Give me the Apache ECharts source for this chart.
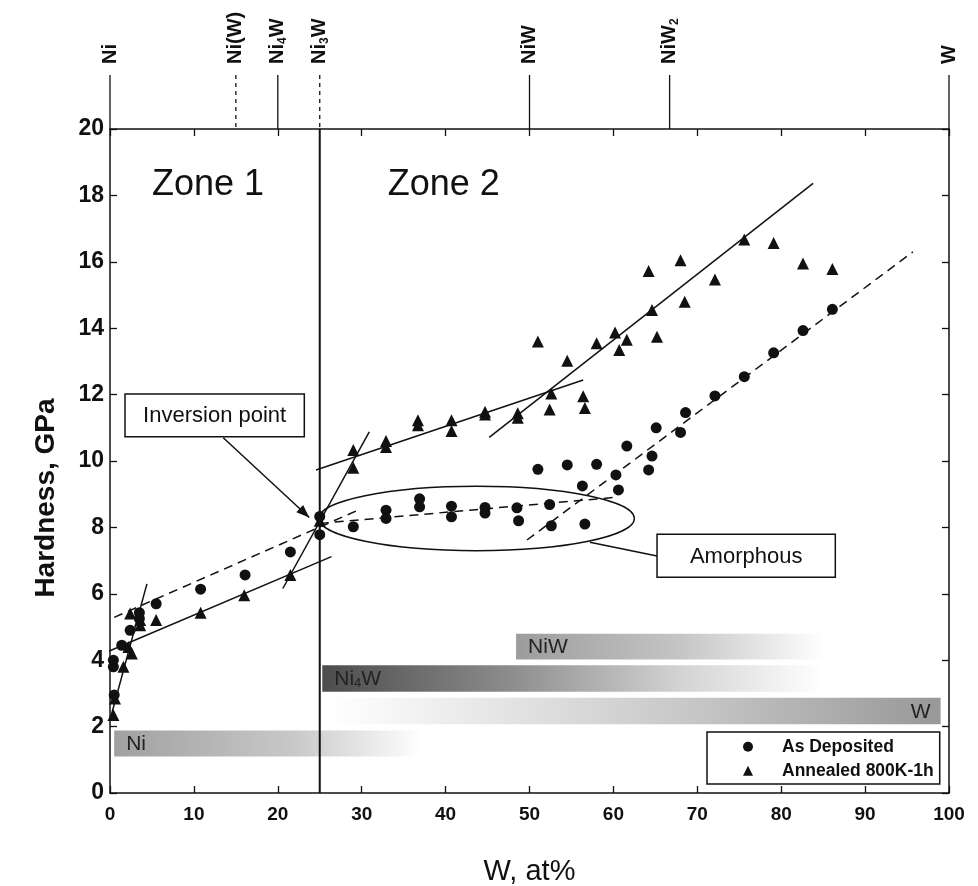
<!DOCTYPE html>
<html>
<head>
<meta charset="utf-8">
<script src="https://cdn.jsdelivr.net/npm/echarts@6/dist/echarts.min.js"></script>
<style>
  html, body { margin: 0; padding: 0; background: #fff; }
  #chart { width: 978px; height: 886px; }
</style>
</head>
<body>
<div id="chart"></div>
<script>
// ---- Hardness of Ni-W deposits vs. W content ----

// axis ticks
const xTicks = [0, 10, 20, 30, 40, 50, 60, 70, 80, 90, 100];
const yTicks = [0, 2, 4, 6, 8, 10, 12, 14, 16, 18, 20];

// hardness (GPa) of as-deposited films: [W at%, hardness]
const asDeposited = [
  [0.4, 4.0], [0.4, 3.8], [0.5, 2.95], [1.4, 4.45], [2.4, 4.9], [3.5, 5.43], [3.5, 5.25],
  [5.5, 5.7], [10.8, 6.14], [16.1, 6.57], [21.5, 7.26], [25.0, 8.33], [25.0, 7.78],
  [29.0, 8.02], [32.9, 8.52], [32.9, 8.27], [36.9, 8.86], [36.9, 8.62], [40.7, 8.64],
  [40.7, 8.32], [44.7, 8.6], [44.7, 8.43], [48.5, 8.59], [48.7, 8.2], [52.4, 8.69],
  [52.6, 8.05], [56.6, 8.1],
  [51.0, 9.75], [54.5, 9.88], [58.0, 9.9], [56.3, 9.25], [60.3, 9.58], [60.6, 9.13],
  [61.6, 10.45], [64.2, 9.73], [64.6, 10.15], [65.1, 11.0], [68.0, 10.86], [68.6, 11.46],
  [72.1, 11.96], [75.6, 12.54], [79.1, 13.26], [82.6, 13.93], [86.1, 14.57]
];

// hardness (GPa) after annealing at 800 K for 1 h
const annealed = [
  [0.4, 2.35], [0.6, 2.85], [1.6, 3.8], [2.6, 4.2], [2.2, 4.4], [2.4, 5.41], [3.6, 5.21],
  [3.6, 5.05], [5.5, 5.21], [10.8, 5.43], [16.0, 5.96], [21.5, 6.57], [25.0, 8.2],
  [29.0, 10.33], [29.0, 9.8], [32.9, 10.6], [32.9, 10.42], [36.7, 11.23], [36.7, 11.08],
  [40.7, 11.23], [40.7, 10.9], [44.7, 11.48], [44.7, 11.4], [48.6, 11.44], [48.6, 11.3],
  [52.6, 12.03], [52.4, 11.55], [56.4, 11.95], [56.6, 11.6],
  [51.0, 13.6], [54.5, 13.02], [58.0, 13.55], [60.2, 13.87], [61.6, 13.65], [60.7, 13.34],
  [64.2, 15.72], [64.6, 14.55], [65.2, 13.74], [68.0, 16.05], [68.5, 14.8], [72.1, 15.47],
  [75.6, 16.67], [79.1, 16.57], [82.6, 15.95], [86.1, 15.78]
];

// trend lines (end points in W at% / GPa)
const depositedTrends = [
  [[0.5, 5.29], [29.4, 8.5]],
  [[25.0, 8.12], [60.0, 8.9]],
  [[49.7, 7.62], [95.7, 16.3]]
];
const annealedTrends = [
  [[0.0, 2.2], [4.4, 6.3]],
  [[-0.8, 4.2], [26.4, 7.12]],
  [[20.6, 6.16], [30.9, 10.88]],
  [[24.55, 9.73], [56.4, 12.44]],
  [[45.2, 10.71], [83.8, 18.36]]
];

// zone boundary
const zoneBoundary = [[25, 0], [25, 20]];

// stoichiometric compositions marked above the plot
const phaseNames = ['Ni', 'Ni(W)', 'Ni4W', 'Ni3W', 'NiW', 'NiW2', 'W'];
const phaseAt = [0, 15, 20, 25, 50, 66.7, 100];
const phaseDashed = [false, true, false, true, false, false, false];

// phase ranges found by diffraction: W at% span and hardness band
const bandNames = ['NiW', 'Ni4W', 'W', 'Ni'];
const bandFrom = [48.4, 25.3, 26.2, 0.5];
const bandTo = [86.8, 86.8, 99.0, 39.1];
const bandLow = [4.02, 3.05, 2.07, 1.1];
const bandHigh = [4.8, 3.85, 2.87, 1.88];

// ---- presentation ----
const FONT = '"Liberation Sans", Arial, Helvetica, sans-serif';
const INK = '#111';

const bandFills = [
  [[0, '#9c9c9c'], [0.5, '#c4c4c4'], [0.96, '#ffffff'], [1, '#ffffff']],
  [[0, '#4c4c4c'], [0.35, '#8a8a8a'], [0.7, '#d4d4d4'], [0.97, '#ffffff'], [1, '#ffffff']],
  [[0, '#ffffff'], [0.12, '#f4f4f4'], [0.6, '#c6c6c6'], [1, '#989898']],
  [[0, '#a0a0a0'], [0.55, '#c8c8c8'], [0.95, '#ffffff'], [1, '#ffffff']]
];
const bandLabelRight = [false, false, true, false];

function richName(n) {
  // digits become subscripts
  return n.replace(/(\d)/g, '}{s|$1}{m|').replace(/^/, '{m|').replace(/$/, '}').replace(/\{m\|\}/g, '');
}

function renderBand(params, api) {
  const i = params.dataIndex;
  const p0 = api.coord([api.value(0), api.value(3)]);
  const p1 = api.coord([api.value(1), api.value(2)]);
  const w = p1[0] - p0[0], h = p1[1] - p0[1];
  const right = bandLabelRight[i];
  return {
    type: 'group',
    children: [
      {
        type: 'rect',
        shape: { x: p0[0], y: p0[1], width: w, height: h },
        style: {
          fill: new echarts.graphic.LinearGradient(0, 0, 1, 0,
            bandFills[i].map(s => ({ offset: s[0], color: s[1] })))
        }
      },
      {
        type: 'text',
        x: right ? p1[0] - 10 : p0[0] + 12,
        y: p0[1] + h / 2 + 1,
        style: {
          text: richName(bandNames[i]),
          rich: {
            m: { fontFamily: FONT, fontSize: 21, fill: '#222' },
            s: { fontFamily: FONT, fontSize: 13, fill: '#222', verticalAlign: 'bottom', lineHeight: 13 }
          },
          align: right ? 'right' : 'left',
          verticalAlign: 'middle'
        }
      }
    ]
  };
}

function arrowHead(a, b, len, half) {
  const dx = b[0] - a[0], dy = b[1] - a[1];
  const L = Math.hypot(dx, dy), ux = dx / L, uy = dy / L;
  const bx = b[0] - ux * len, by = b[1] - uy * len;
  return [[b[0], b[1]], [bx - uy * half, by + ux * half], [bx + uy * half, by - ux * half]];
}

function renderNotes(params, api) {
  const c = p => api.coord(p);
  const kids = [];
  const stroke = { stroke: INK, lineWidth: 1.5, fill: null };

  // composition markers above the top axis
  const topY = c([0, 20])[1];
  phaseNames.forEach((n, i) => {
    const px = c([phaseAt[i], 20])[0];
    kids.push({
      type: 'line',
      shape: { x1: px, y1: topY - 54, x2: px, y2: topY },
      style: { stroke: INK, lineWidth: 1.3, lineDash: phaseDashed[i] ? [4, 4] : null }
    });
    kids.push({
      type: 'text',
      x: px, y: topY - 65, rotation: Math.PI / 2,
      style: {
        text: richName(n),
        rich: {
          m: { fontFamily: FONT, fontWeight: 'bold', fontSize: 20, fill: INK, lineHeight: 22 },
          s: { fontFamily: FONT, fontWeight: 'bold', fontSize: 12, fill: INK, verticalAlign: 'bottom', lineHeight: 12 }
        },
        align: 'left', verticalAlign: 'middle'
      }
    });
  });

  // zone titles
  [['Zone 1', 5.0], ['Zone 2', 33.1]].forEach(z => {
    const p = c([z[1], 18.3]);
    kids.push({ type: 'text', x: p[0], y: p[1],
      style: { text: z[0], fontFamily: FONT, fontSize: 36, fill: INK, align: 'left', verticalAlign: 'middle' } });
  });

  // amorphous region
  const ec = c([43.7, 8.27]);
  const er = api.size([18.8, 0.97]);
  kids.push({ type: 'ellipse', shape: { cx: ec[0], cy: ec[1], rx: er[0], ry: er[1] }, style: stroke });

  // labelled boxes
  function box(x0, y0, x1, y1, text) {
    const a = c([x0, y0]), b = c([x1, y1]);
    kids.push({ type: 'rect', shape: { x: a[0], y: a[1], width: b[0] - a[0], height: b[1] - a[1] },
      style: { stroke: INK, lineWidth: 1.5, fill: '#fff' } });
    kids.push({ type: 'text', x: (a[0] + b[0]) / 2, y: (a[1] + b[1]) / 2 + 1,
      style: { text, fontFamily: FONT, fontSize: 22, fill: INK, align: 'center', verticalAlign: 'middle' } });
  }

  // inversion point callout
  const ia = c([13.5, 10.7]), ib = c([23.75, 8.3]);
  kids.push({ type: 'line', shape: { x1: ia[0], y1: ia[1], x2: ib[0], y2: ib[1] }, style: stroke });
  kids.push({ type: 'polygon', shape: { points: arrowHead(ia, ib, 13, 5) }, style: { fill: INK } });
  box(1.79, 12.02, 23.16, 10.73, 'Inversion point');

  // amorphous callout
  const aa = c([65.2, 7.14]), ab = c([57.2, 7.55]);
  kids.push({ type: 'line', shape: { x1: aa[0], y1: aa[1], x2: ab[0], y2: ab[1] }, style: stroke });
  box(65.2, 7.79, 86.45, 6.5, 'Amorphous');

  return { type: 'group', children: kids };
}

function trendSeries(pts, dashed) {
  return {
    type: 'line', data: pts, symbol: 'none', clip: false, silent: true, z: 3,
    lineStyle: { color: INK, width: 1.5, type: dashed ? [9, 6] : 'solid' }
  };
}

function frameAxis(extra) {
  return Object.assign({
    type: 'value',
    axisLine: { show: true, onZero: false, lineStyle: { color: INK, width: 1.5 } },
    axisTick: { show: true, inside: true, length: 7, lineStyle: { color: INK, width: 1.3 } },
    splitLine: { show: false }
  }, extra);
}

const option = {
  backgroundColor: '#fff',
  animation: false,
  grid: { left: 110, right: 29, top: 129, bottom: 93, containLabel: false, outerBoundsMode: 'none' },
  xAxis: [
    frameAxis({
      position: 'bottom', min: xTicks[0], max: xTicks[xTicks.length - 1], interval: 10,
      axisLabel: { margin: 12, color: INK, fontFamily: FONT, fontWeight: 'bold', fontSize: 19,
        formatter: v => (xTicks.includes(v) ? String(v) : '') },
      name: 'W, at%', nameLocation: 'middle', nameGap: 64,
      nameTextStyle: { fontFamily: FONT, fontSize: 29, color: INK }
    }),
    frameAxis({ position: 'top', min: 0, max: 100, interval: 10, axisLabel: { show: false } })
  ],
  yAxis: [
    frameAxis({
      position: 'left', min: yTicks[0], max: yTicks[yTicks.length - 1], interval: 2,
      axisLabel: { margin: 6, color: INK, fontFamily: FONT, fontWeight: 'bold', fontSize: 23,
        formatter: v => (yTicks.includes(v) ? String(v) : '') },
      name: 'Hardness, GPa', nameLocation: 'middle', nameGap: 50,
      nameTextStyle: { fontFamily: FONT, fontWeight: 'bold', fontSize: 28, color: INK, padding: [0, 74, 0, 0] }
    }),
    frameAxis({ position: 'right', min: 0, max: 20, interval: 2, axisLabel: { show: false } })
  ],
  legend: {
    left: 707, top: 732, orient: 'vertical',
    itemWidth: 10, itemHeight: 10, itemGap: 6,
    padding: [5.7, 6, 4.3, 36],
    borderColor: INK, borderWidth: 1.5,
    textStyle: { fontFamily: FONT, fontWeight: 'bold', fontSize: 17.5, lineHeight: 18, color: INK, padding: [0, 0, 0, 24] },
    data: [{ name: 'As Deposited', icon: 'circle' }, { name: 'Annealed 800K-1h', icon: 'triangle' }]
  },
  series: [
    {
      name: 'phases', type: 'custom', renderItem: renderBand, z: 1, silent: true,
      encode: { x: [0, 1], y: [2, 3] },
      data: bandNames.map((n, i) => [bandFrom[i], bandTo[i], bandLow[i], bandHigh[i]])
    },
    {
      name: 'boundary', type: 'line', data: zoneBoundary, symbol: 'none', silent: true, z: 2,
      lineStyle: { color: INK, width: 2 }
    },
    ...depositedTrends.map(t => trendSeries(t, true)),
    ...annealedTrends.map(t => trendSeries(t, false)),
    {
      name: 'As Deposited', type: 'scatter', data: asDeposited, symbol: 'circle', symbolSize: 11, z: 5,
      itemStyle: { color: INK, opacity: 1 }
    },
    {
      name: 'Annealed 800K-1h', type: 'scatter', data: annealed, symbol: 'triangle', symbolSize: 12, z: 5,
      itemStyle: { color: INK, opacity: 1 }
    },
    {
      name: 'notes', type: 'custom', renderItem: renderNotes, z: 4, silent: true, clip: false,
      encode: { x: 0, y: 1 }, data: [[50, 10]]
    }
  ]
};

const chart = echarts.init(document.getElementById('chart'));
chart.setOption(option);
</script>
</body>
</html>
